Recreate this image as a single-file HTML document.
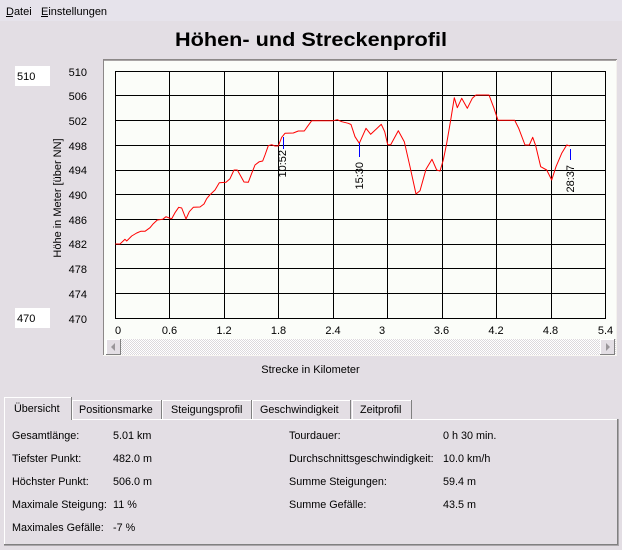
<!DOCTYPE html>
<html><head><meta charset="utf-8"><style>
html,body{margin:0;padding:0;background:#e3dee4;}
svg{display:block;font-family:"Liberation Sans",Arial,sans-serif;}
</style></head><body>
<svg width="622" height="550" viewBox="0 0 622 550" xmlns="http://www.w3.org/2000/svg">
<defs>
<pattern id="chk" width="2" height="2" patternUnits="userSpaceOnUse">
<rect width="2" height="2" fill="#ffffff"/>
<rect width="1" height="1" fill="#dcd8dc"/>
<rect x="1" y="1" width="1" height="1" fill="#dcd8dc"/>
</pattern>
</defs>
<rect width="622" height="550" fill="#e3dee4"/>
<!-- menu -->
<rect width="622" height="21" fill="#e6e3eb"/>
<text x="6" y="15" font-size="11" fill="#000">Datei</text>
<line x1="6" y1="16.5" x2="13" y2="16.5" stroke="#000" stroke-width="1"/>
<text x="41" y="15" font-size="11" fill="#000">Einstellungen</text>
<line x1="41" y1="16.5" x2="48" y2="16.5" stroke="#000" stroke-width="1"/>
<!-- title -->
<text x="311" y="46" font-size="19" font-weight="bold" text-anchor="middle" textLength="272" lengthAdjust="spacingAndGlyphs" fill="#000">Höhen- und Streckenprofil</text>
<!-- side boxes -->
<rect x="15" y="66" width="35" height="20" fill="#ffffff"/>
<text x="17" y="80" font-size="11" fill="#000">510</text>
<rect x="15" y="308" width="35" height="20" fill="#ffffff"/>
<text x="17" y="322" font-size="11" fill="#000">470</text>
<!-- y axis title -->
<text transform="translate(61,198) rotate(-90)" font-size="11" text-anchor="middle" fill="#000">Höhe in Meter [über NN]</text>
<!-- y labels -->
<g font-size="11" text-anchor="end" fill="#000">
<text x="87" y="76">510</text>
<text x="87" y="100">506</text>
<text x="87" y="125">502</text>
<text x="87" y="150">498</text>
<text x="87" y="174">494</text>
<text x="87" y="199">490</text>
<text x="87" y="224">486</text>
<text x="87" y="248">482</text>
<text x="87" y="273">478</text>
<text x="87" y="298">474</text>
<text x="87" y="323">470</text>
</g>
<!-- chart panel -->
<rect x="103" y="59" width="514" height="297" fill="#fbfdf9"/>
<line x1="103" y1="59.5" x2="617" y2="59.5" stroke="#8c8888" stroke-width="1"/>
<line x1="103" y1="60.5" x2="617" y2="60.5" stroke="#a8a4a4" stroke-width="1"/>
<line x1="103.5" y1="59" x2="103.5" y2="356" stroke="#8c8888" stroke-width="1"/>
<line x1="616.5" y1="60" x2="616.5" y2="356" stroke="#f4f2ee" stroke-width="1"/>
<line x1="103" y1="355.5" x2="617" y2="355.5" stroke="#f8f6f2" stroke-width="1"/>
<!-- grid -->
<g stroke="#000" stroke-width="1" fill="none">
<rect x="115.5" y="71.5" width="490" height="247"/>
<line x1="169.5" y1="71" x2="169.5" y2="319"/>
<line x1="224.5" y1="71" x2="224.5" y2="319"/>
<line x1="278.5" y1="71" x2="278.5" y2="319"/>
<line x1="333.5" y1="71" x2="333.5" y2="319"/>
<line x1="387.5" y1="71" x2="387.5" y2="319"/>
<line x1="442.5" y1="71" x2="442.5" y2="319"/>
<line x1="496.5" y1="71" x2="496.5" y2="319"/>
<line x1="551.5" y1="71" x2="551.5" y2="319"/>
<line x1="115" y1="95.5" x2="606" y2="95.5"/>
<line x1="115" y1="120.5" x2="606" y2="120.5"/>
<line x1="115" y1="145.5" x2="606" y2="145.5"/>
<line x1="115" y1="170.5" x2="606" y2="170.5"/>
<line x1="115" y1="194.5" x2="606" y2="194.5"/>
<line x1="115" y1="219.5" x2="606" y2="219.5"/>
<line x1="115" y1="244.5" x2="606" y2="244.5"/>
<line x1="115" y1="268.5" x2="606" y2="268.5"/>
<line x1="115" y1="293.5" x2="606" y2="293.5"/>
</g>
<!-- profile line -->
<polyline fill="none" stroke="#ff0000" stroke-width="1" stroke-linejoin="round" points="115.3,244 120,244 125,239.3 126.7,241 131.7,236 136.7,233 140.7,231.3 145,231.3 150,227.7 153.3,223.7 157.3,220 162.7,219.3 166,216.7 169.3,218 171.7,218.7 175,212.7 178.7,207.3 181.7,208 186,219 189.3,211.7 193.3,207.3 200,207 204,204 206.7,198.7 210,194.7 215,190 219.3,182.7 226,182.3 230,178.7 234,170 237.3,170 240.7,176 244,182 248.3,182.3 251.7,173.3 255,165 259.3,161.7 262.7,161 265,155 268.3,145.7 271.7,144.7 275,146 278.3,146 281.7,137.3 285,133.3 293.3,133 298.3,131 304.3,131 307.3,126.7 311.7,120.7 333.3,120.7 337.3,119.7 341.7,121.7 348.3,123.3 351,124.5 355,136.7 359.3,143.3 366,128.3 370.7,134.3 381.3,124.3 384.7,131.7 387.7,144.7 390.7,144.7 398.3,130.7 404.3,141.7 410,166.7 416,194 420,190.7 426,169.3 432,159.3 436.7,170 440,171 443.3,160 446.7,143.3 450.7,120 454.3,97.7 457.3,107.7 461.7,98.3 467.3,108.3 472.3,98.3 476,95 489,95 494,108.3 498,120.3 514.7,120.3 518.7,128.3 525,145 529.3,145 532.7,137.3 535.7,145.7 540.7,166.7 546.7,170 551.7,180 556,166.7 561.7,153.3 566.7,145 570,146"/>
<!-- markers -->
<g stroke="#0000ff" stroke-width="1">
<line x1="283.5" y1="137" x2="283.5" y2="149"/>
<line x1="359.5" y1="143" x2="359.5" y2="157"/>
<line x1="570.5" y1="149" x2="570.5" y2="160"/>
</g>
<g font-size="11" fill="#000" text-anchor="end">
<text transform="translate(286,150) rotate(-90)">10:52</text>
<text transform="translate(363,162) rotate(-90)">15:30</text>
<text transform="translate(574,165) rotate(-90)">28:37</text>
</g>
<!-- x labels -->
<g font-size="11" text-anchor="middle" fill="#000">
<text x="118" y="334">0</text>
<text x="169.5" y="334">0.6</text>
<text x="224" y="334">1.2</text>
<text x="278.5" y="334">1.8</text>
<text x="333" y="334">2.4</text>
<text x="382" y="334">3</text>
<text x="441.5" y="334">3.6</text>
<text x="496" y="334">4.2</text>
<text x="550.5" y="334">4.8</text>
<text x="605.5" y="334">5.4</text>
</g>
<!-- scrollbar -->
<rect x="106" y="339" width="510" height="16" fill="url(#chk)"/>
<g>
<rect x="106" y="339" width="15" height="16" fill="#e3dee4"/>
<path d="M106.5,354.5 V339.5 H120.5" stroke="#ffffff" fill="none"/>
<path d="M106,354.5 H120.5 V339" stroke="#808080" fill="none"/>
<path d="M115,343 L111,347 L115,351 Z" fill="#9a969a"/>
<rect x="600" y="339" width="15" height="16" fill="#e3dee4"/>
<path d="M600.5,354.5 V339.5 H614.5" stroke="#ffffff" fill="none"/>
<path d="M600,354.5 H614.5 V339" stroke="#808080" fill="none"/>
<path d="M606,343 L610,347 L606,351 Z" fill="#9a969a"/>
</g>
<text x="310.5" y="373" font-size="11" text-anchor="middle" fill="#000">Strecke in Kilometer</text>
<!-- tab body -->
<rect x="4" y="419" width="614" height="126" fill="#e3dee4"/>
<path d="M4.5,544 V419.5 H617" stroke="#ffffff" fill="none"/>
<path d="M4,544.5 H617.5 V419" stroke="#808080" fill="none"/>
<path d="M4,545.5 H618.5 V419" stroke="#404040" fill="none" opacity="0.35"/>
<!-- inactive tabs -->
<g fill="none">
<path d="M72.5,419 V400.5 H161" stroke="#ffffff"/>
<path d="M161.5,400 V419" stroke="#808080"/>
<path d="M162.5,419 V400.5 H251" stroke="#ffffff"/>
<path d="M251.5,400 V419" stroke="#808080"/>
<path d="M252.5,419 V400.5 H350" stroke="#ffffff"/>
<path d="M350.5,400 V419" stroke="#808080"/>
<path d="M352.5,419 V400.5 H411" stroke="#ffffff"/>
<path d="M411.5,400 V419" stroke="#808080"/>
</g>
<!-- active tab -->
<rect x="5" y="398" width="67" height="22" fill="#e3dee4"/>
<path d="M4.5,420 V397.5 H71" stroke="#ffffff" fill="none"/>
<path d="M71.5,397 V420" stroke="#808080" fill="none"/>
<g font-size="10.8" fill="#000">
<text x="14" y="412">Übersicht</text>
<text x="79" y="413">Positionsmarke</text>
<text x="171" y="413">Steigungsprofil</text>
<text x="260" y="413">Geschwindigkeit</text>
<text x="360" y="413">Zeitprofil</text>
<text x="12" y="439">Gesamtlänge:</text>
<text x="113" y="439">5.01 km</text>
<text x="12" y="462">Tiefster Punkt:</text>
<text x="113" y="462">482.0 m</text>
<text x="12" y="485">Höchster Punkt:</text>
<text x="113" y="485">506.0 m</text>
<text x="12" y="508">Maximale Steigung:</text>
<text x="113" y="508">11 %</text>
<text x="12" y="531">Maximales Gefälle:</text>
<text x="113" y="531">-7 %</text>
<text x="289" y="439">Tourdauer:</text>
<text x="443" y="439">0 h 30 min.</text>
<text x="289" y="462">Durchschnittsgeschwindigkeit:</text>
<text x="443" y="462">10.0 km/h</text>
<text x="289" y="485">Summe Steigungen:</text>
<text x="443" y="485">59.4 m</text>
<text x="289" y="508">Summe Gefälle:</text>
<text x="443" y="508">43.5 m</text>
</g>
</svg>
</body></html>
